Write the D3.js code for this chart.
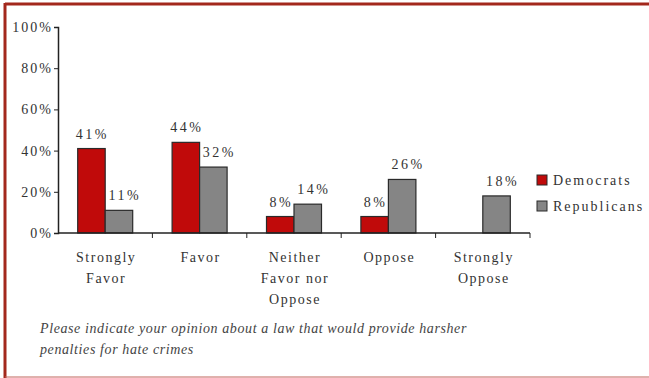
<!DOCTYPE html>
<html>
<head>
<meta charset="utf-8" />
<title>hate crimes law chart</title>
<script src="https://d3js.org/d3.v7.min.js"></script>
<style>
  body { margin: 0; background: #fff; }
</style>
</head>
<body>
<svg id="chart"></svg>
<script>
// answer categories (lines split for wrapping)
var categories = ["Strongly Favor", "Favor", "Neither Favor nor Oppose", "Oppose", "Strongly Oppose"];
var catLines = [["Strongly", "Favor"], ["Favor"], ["Neither", "Favor nor", "Oppose"], ["Oppose"], ["Strongly", "Oppose"]];
var seriesNames = ["Democrats", "Republicans"];
var democrats = [41, 44, 8, 8, null];
var republicans = [11, 32, 14, 26, 18];
var yTicks = [0, 20, 40, 60, 80, 100];
var caption = ["Please indicate your opinion about a law that would provide harsher",
               "penalties for hate crimes"];

var FONT = "'Liberation Serif', 'Times New Roman', 'DejaVu Serif', serif";
var W = 649, H = 378;
var svg = d3.select("#chart").attr("width", W).attr("height", H);

// frame
svg.append("line").attr("x1", 5).attr("x2", W).attr("y1", 4).attr("y2", 4)
  .attr("stroke", "#a3281c").attr("stroke-width", 3);
svg.append("line").attr("x1", 5).attr("x2", 5).attr("y1", 3).attr("y2", H)
  .attr("stroke", "#a3281c").attr("stroke-width", 3);
svg.append("line").attr("x1", 5).attr("x2", W).attr("y1", 377).attr("y2", 377)
  .attr("stroke", "#c0625a").attr("stroke-width", 1);

var x0 = 58, x1 = 530, yTop = 27, yBot = 233;

var x = d3.scaleBand().domain(categories).range([x0, x1]);
var xs = d3.scaleBand().domain(seriesNames).range([0, 55]);
var y = d3.scaleLinear().domain([0, 100]).range([yBot, yTop]);
var color = d3.scaleOrdinal().domain(seriesNames).range(["#c00a0a", "#858585"]);

// y axis
var yAxis = svg.append("g").attr("transform", "translate(" + x0 + ",0)")
  .call(d3.axisLeft(y).tickValues(yTicks).tickSize(4).tickPadding(1)
    .tickFormat(function(d) { return d + "%"; }));
yAxis.attr("font-family", null);
yAxis.select(".domain").attr("stroke", "#222").attr("stroke-width", 1.5);
yAxis.selectAll(".tick line").attr("stroke", "#222");
yAxis.selectAll("text").style("font-family", FONT)
  .style("font-size", "14px").style("letter-spacing", "2px").attr("fill", "#333");

// bars
var data = [];
categories.forEach(function(c, i) {
  data.push({cat: c, s: "Democrats", v: democrats[i]});
  data.push({cat: c, s: "Republicans", v: republicans[i]});
});
var bw = xs.bandwidth();
var off = (x.bandwidth() - 55) / 2;

svg.selectAll("rect.bar").data(data.filter(function(d) { return d.v != null; }))
  .enter().append("rect").attr("class", "bar")
  .attr("x", function(d) { return x(d.cat) + off + xs(d.s); })
  .attr("y", function(d) { return y(d.v); })
  .attr("width", bw)
  .attr("height", function(d) { return yBot - y(d.v); })
  .attr("fill", function(d) { return color(d.s); })
  .attr("stroke", "#2a2a2a").attr("stroke-width", 1.2);

svg.selectAll("text.val").data(data.filter(function(d) { return d.v != null; }))
  .enter().append("text").attr("class", "val")
  .attr("x", function(d) { return x(d.cat) + off + xs(d.s) + bw / 2 + (d.s == "Republicans" ? 6 : 1); })
  .attr("y", function(d) { return y(d.v) - 10; })
  .attr("text-anchor", "middle").style("font-family", FONT).style("font-size", "14px")
  .style("letter-spacing", "2.5px").attr("fill", "#333")
  .text(function(d) { return d.v + "%"; });

// x axis
var xAxis = svg.append("g").attr("transform", "translate(0," + yBot + ")");
xAxis.append("line").attr("x1", x0).attr("x2", x1).attr("stroke", "#222").attr("stroke-width", 1.5);
xAxis.selectAll("line.tk").data(categories).enter().append("line").attr("class", "tk")
  .attr("x1", function(d) { return x(d) + x.bandwidth(); })
  .attr("x2", function(d) { return x(d) + x.bandwidth(); })
  .attr("y1", 0).attr("y2", 5).attr("stroke", "#222");

categories.forEach(function(c, i) {
  var t = svg.append("text").attr("text-anchor", "middle")
    .style("font-family", FONT).style("font-size", "14px").style("letter-spacing", "1.5px")
    .attr("fill", "#333");
  catLines[i].forEach(function(l, j) {
    t.append("tspan").attr("x", x(c) + x.bandwidth() / 2 + 1).attr("y", 262 + j * 21).text(l);
  });
});

// legend
var lg = svg.selectAll("g.lg").data(seriesNames).enter().append("g").attr("class", "lg")
  .attr("transform", function(d, i) { return "translate(537," + (175 + i * 26) + ")"; });
lg.append("rect").attr("width", 10).attr("height", 10)
  .attr("fill", function(d) { return color(d); }).attr("stroke", "#2a2a2a");
lg.append("text").attr("x", 16).attr("y", 10).style("font-family", FONT)
  .style("font-size", "14px").style("letter-spacing", "2px")
  .attr("fill", "#333").text(function(d) { return d; });

// caption
caption.forEach(function(l, i) {
  svg.append("text").attr("x", 40).attr("y", 333 + i * 21)
    .style("font-family", FONT).style("font-size", "14px").style("font-style", "italic")
    .style("letter-spacing", "0.6px").attr("fill", "#444").text(l);
});
</script>
</body>
</html>
